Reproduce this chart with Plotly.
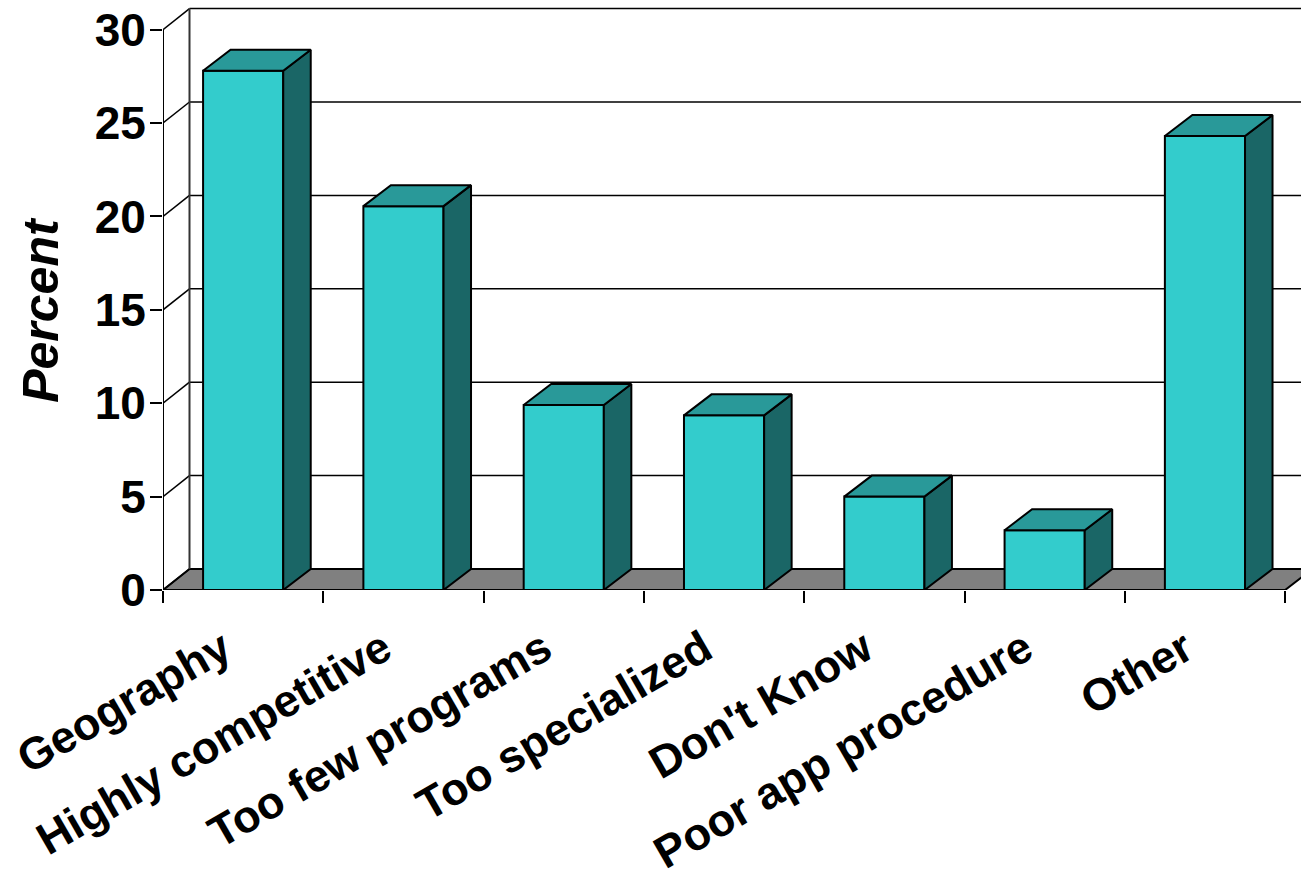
import plotly.graph_objects as go

categories = ["Geography", "Highly competitive", "Too few programs", "Too specialized",
              "Don't Know", "Poor app procedure", "Other"]
values = [27.8, 20.55, 9.9, 9.35, 5.0, 3.2, 24.3]
y_ticks = [0, 5, 10, 15, 20, 25, 30]
y_axis_title = "Percent"

W, H = 1301, 870
LEFT, Y0, PXX, PXY, TOP = 163, 590, 160.3, 18.68, 4
BAR_W = 0.5
DX, DY = 27.5 / PXX, 21 / PXY
WALL_DX = 26.5 / PXX
X_MIN = -0.5
X_MAX = X_MIN + (W - LEFT) / PXX
Y_MAX = (Y0 - TOP) / PXY
FRONT, TOPC, SIDE, FLOOR = "#33CCCC", "#299999", "#1A6666", "#808080"
LABEL_FONT = dict(family="Liberation Sans", size=45, color="black", weight="bold")
YTICK_FONT = dict(family="Liberation Sans", size=46, color="black", weight="bold")

n = len(categories)
x_idx = list(range(n))
last = n - 0.5

shapes = []
def seg(x0, y0, x1, y1, w=1.5, color="black"):
    shapes.append(dict(type="line", x0=x0, y0=y0, x1=x1, y1=y1, xref="x", yref="y",
                       layer="below", line=dict(color=color, width=w)))

# floor
shapes.append(dict(type="path", xref="x", yref="y", layer="below",
                   path=f"M{X_MIN},0 L{last},0 L{last+DX},{DY} L{X_MIN+WALL_DX},{DY} Z",
                   fillcolor=FLOOR, line=dict(color="black", width=2)))
# walls and gridlines
for t in y_ticks:
    seg(X_MIN, t, X_MIN + WALL_DX, t + DY)
    if t > 0:
        seg(X_MIN + WALL_DX, t + DY, X_MAX + 1, t + DY)
seg(X_MIN + WALL_DX, DY, X_MIN + WALL_DX, y_ticks[-1] + DY, 2, "#333333")
seg(X_MIN, 0, X_MIN, y_ticks[-1], 2)
seg(X_MIN, 0, last, 0, 2)

side_x, side_y, top_x, top_y = [], [], [], []
for i, v in zip(x_idx, values):
    l, r = i - BAR_W / 2, i + BAR_W / 2
    side_x += [r, r + DX, r + DX, r, r, None]
    side_y += [0, DY, v + DY, v, 0, None]
    top_x += [l, l + DX, r + DX, r, l, None]
    top_y += [v, v + DY, v + DY, v, v, None]

fig = go.Figure()
fig.add_trace(go.Bar(x=x_idx, y=values, width=BAR_W, marker=dict(color=FRONT, line=dict(color="black", width=2))))
fig.add_trace(go.Scatter(x=side_x, y=side_y, mode="lines", fill="toself", fillcolor=SIDE,
                         line=dict(color="black", width=2), hoverinfo="skip"))
fig.add_trace(go.Scatter(x=top_x, y=top_y, mode="lines", fill="toself", fillcolor=TOPC,
                         line=dict(color="black", width=2), hoverinfo="skip"))

fig.update_layout(
    width=W, height=H, showlegend=False, paper_bgcolor="white", plot_bgcolor="white",
    margin=dict(l=LEFT, r=0, t=TOP, b=H - Y0, autoexpand=False),
    shapes=shapes,
    annotations=[dict(text=y_axis_title, textangle=-90, xref="paper", yref="y",
                      x=(41 - LEFT) / (W - LEFT), y=15, xanchor="center", yanchor="middle", showarrow=False,
                      font=dict(family="Liberation Sans", size=50, color="black", weight="bold", style="italic"))],
    xaxis=dict(range=[X_MIN, X_MAX], tickmode="array", tickvals=x_idx, ticktext=categories,
               tickangle=-30, tickfont=LABEL_FONT, ticks="", showgrid=False, zeroline=False,
               showline=False, automargin=False, ticklabelstandoff=23, ticklabelshift=-20,
               minor=dict(tickmode="array", tickvals=[i - 0.5 for i in range(n + 1)],
                          ticks="outside", ticklen=12, tickwidth=1.5, tickcolor="black", showgrid=False)),
    yaxis=dict(range=[0, Y_MAX], tickmode="array", tickvals=y_ticks, tickfont=YTICK_FONT,
               ticks="outside", ticklen=12, tickwidth=1.5, tickcolor="black", showgrid=False,
               zeroline=False, showline=False, automargin=False, ticklabelstandoff=-5),
)
fig.write_html("out.html", config={"displayModeBar": False},
               post_script="document.body.style.margin='0';")
